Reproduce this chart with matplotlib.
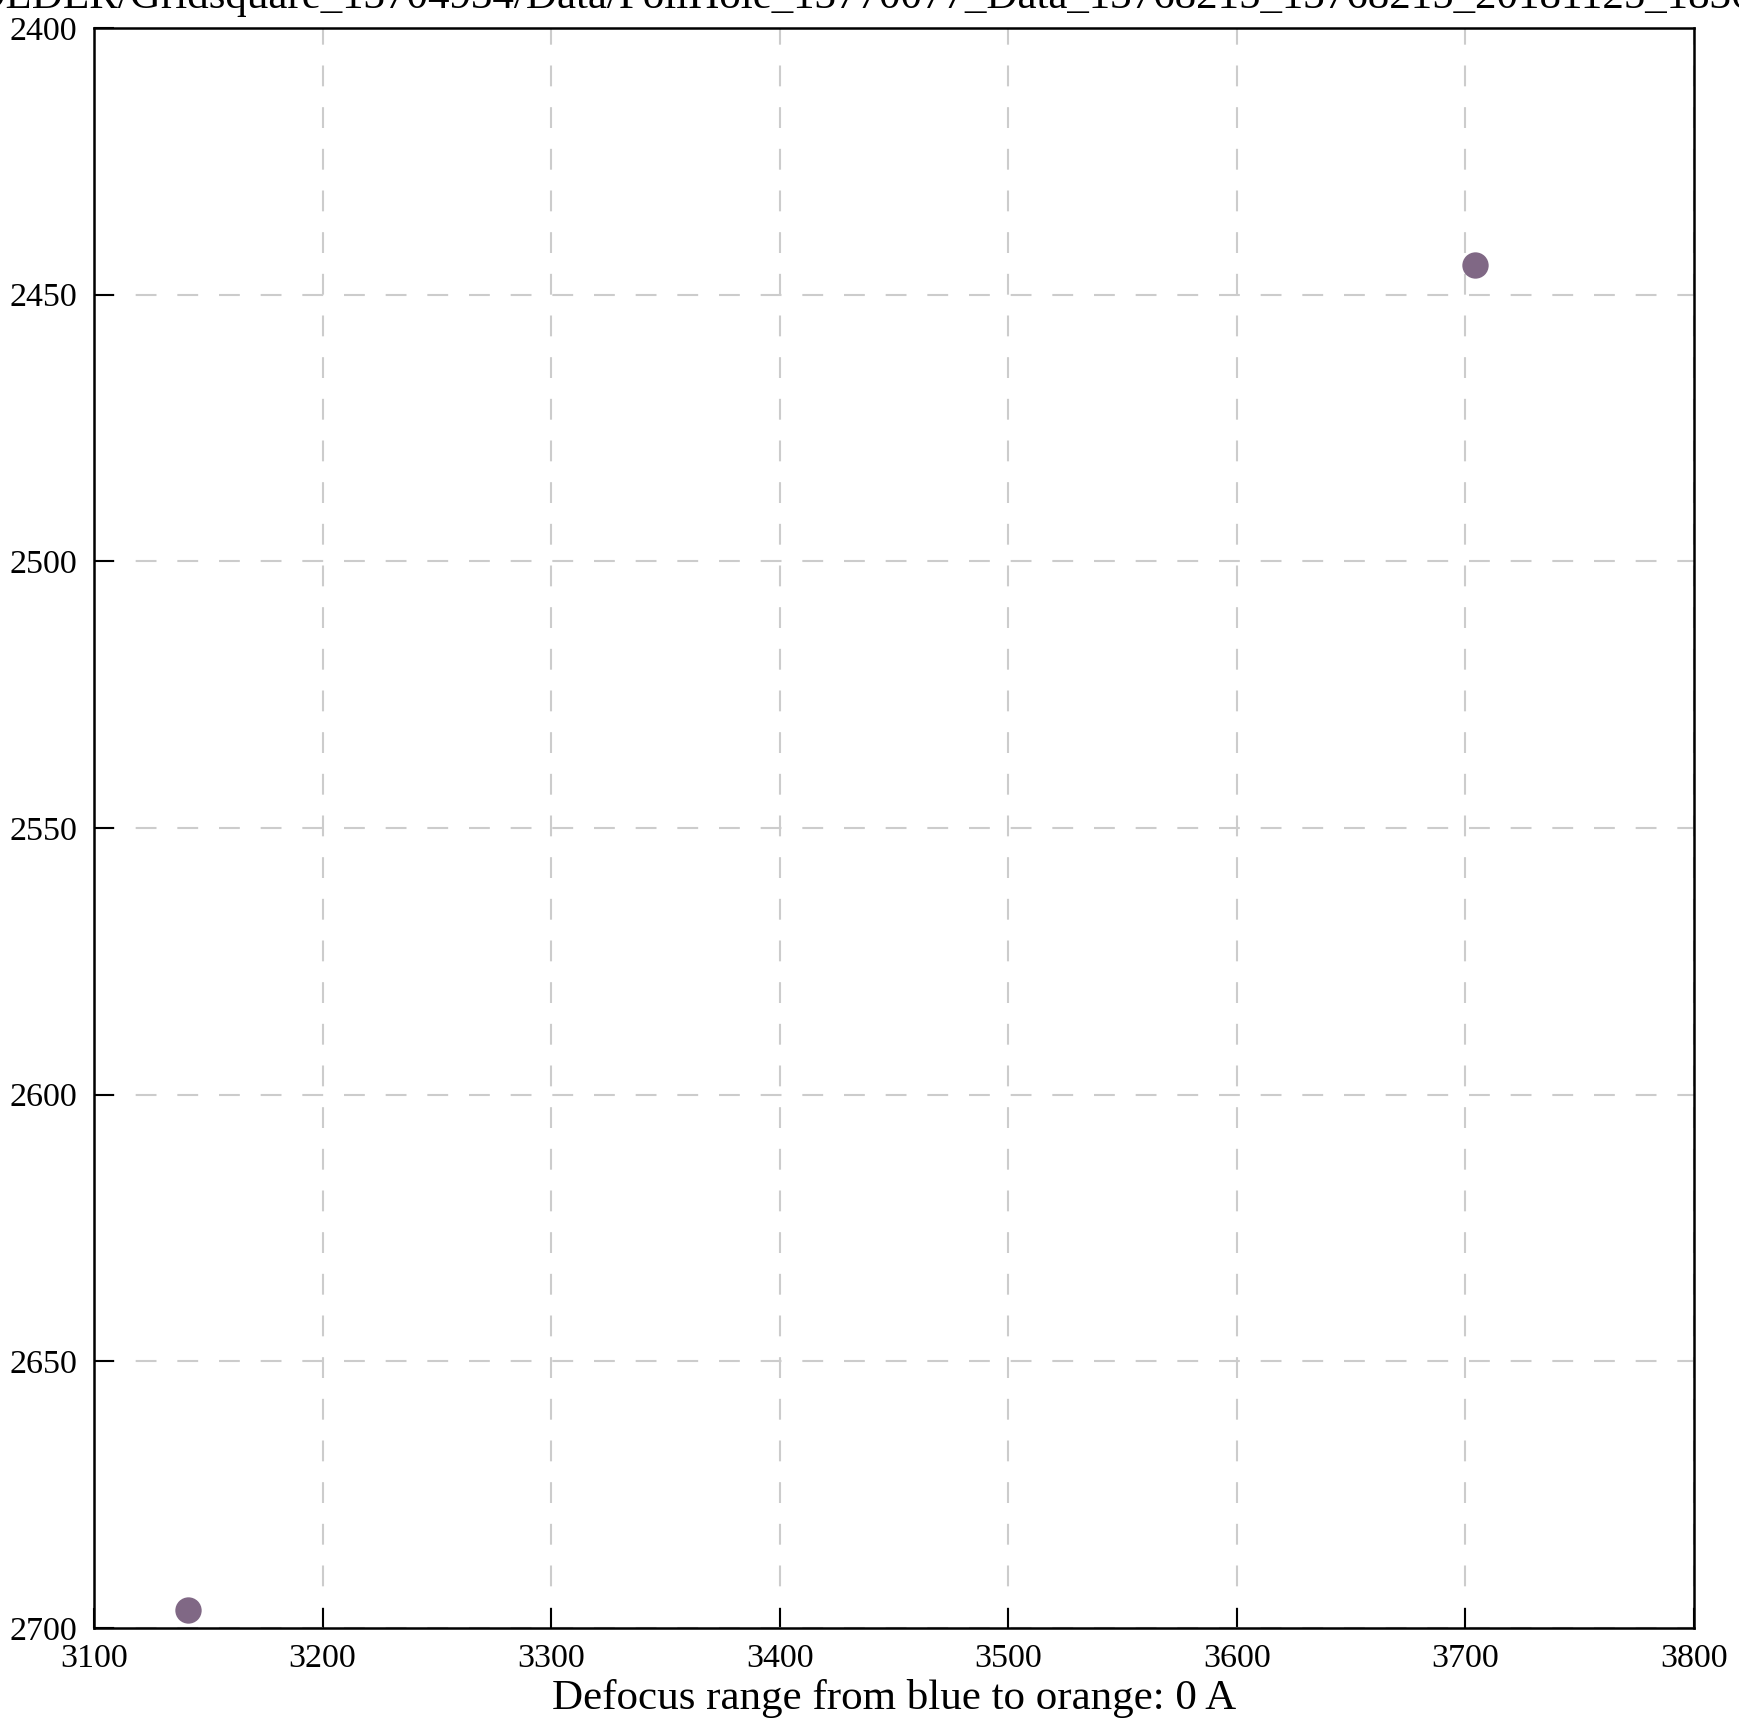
import matplotlib
matplotlib.use("Agg")
import matplotlib.pyplot as plt

# data
defocus_x = [3141, 3704]
defocus_y = [2696.7, 2444.5]
x_ticks = [3100, 3200, 3300, 3400, 3500, 3600, 3700, 3800]
y_ticks = [2400, 2450, 2500, 2550, 2600, 2650, 2700]
title_prefix = "Images-Disc1/OLDER/"
title_rest = "Gridsquare_13704934/Data/FoilHole_13770077_Data_13768215_13768215_20181125_1836331"
xlabel_text = "Defocus range from blue to orange: 0 A"

plt.rcParams['font.family'] = ['Liberation Serif', 'DejaVu Serif']

W, H = 1740, 1729
fig = plt.figure(figsize=(W / 100, H / 100), dpi=100)
ax = fig.add_axes([94 / W, 1 - 1628 / H, (1694 - 94) / W, (1628 - 28) / H])

ax.scatter(defocus_x, defocus_y, s=360, color='#806885', zorder=3, linewidths=0)

ax.set_xlim(3100, 3800)
ax.set_ylim(2700, 2400)
ax.set_xticks(x_ticks)
ax.set_yticks(y_ticks)
ax.grid(True, color='#cccccc', linestyle=(0, (10, 10)), linewidth=1.5)
ax.set_axisbelow(True)
ax.tick_params(direction='in', length=14.5, width=1.5, labelsize=24.5, color='black')
ax.tick_params(axis='x', pad=11)
ax.tick_params(axis='y', pad=12)
for s in ax.spines.values():
    s.set_linewidth(1.8)
ax.set_xlabel(xlabel_text, fontsize=31, labelpad=4)

# title: path string, cut off at the top of the figure
renderer = fig.canvas.get_renderer()
tmp = fig.text(0, 0, title_prefix, fontsize=31)
pw = tmp.get_window_extent(renderer).width
tmp.remove()
fig.text((130 - pw) / W, 1 - 8 / H, title_prefix + title_rest,
         ha='left', va='baseline', fontsize=31)

fig.savefig("out.png", dpi=100)
